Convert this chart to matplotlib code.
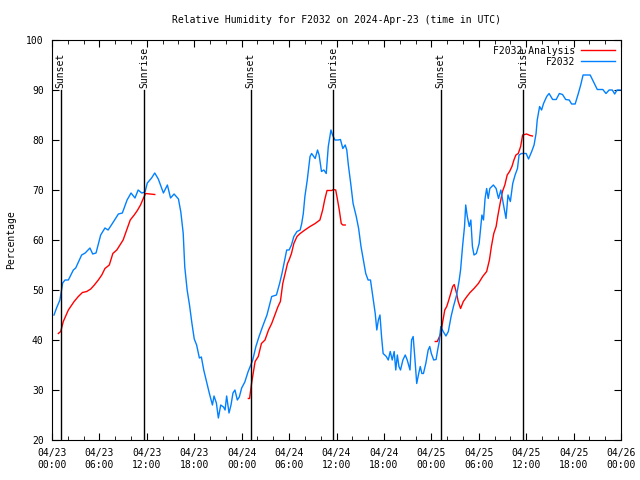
import datetime as dt
import numpy as np
import matplotlib
matplotlib.use('Agg')
import matplotlib.pyplot as plt
import matplotlib.dates as mdates

t0 = dt.datetime(2024, 4, 23, 0, 0)

# F2032 observed (hours since 04/23 00:00, percent)
obs_h = [0.25, 0.6, 1.0, 1.35, 1.65, 2.07, 2.7, 3.0, 3.75, 4.2, 4.8, 5.15, 5.57, 6.16, 6.7, 7.1,
         7.76, 8.4, 8.9, 9.5, 10.0, 10.5, 10.9, 11.35, 11.77, 12.06, 12.6, 13.0, 13.45, 14.1, 14.6,
         15.0, 15.45, 16.0, 16.3, 16.6, 16.8, 17.1, 17.4, 17.7, 18.0, 18.3, 18.65, 18.9, 19.2, 19.6,
         19.9, 20.3, 20.5, 20.8, 21.05, 21.35, 21.7, 21.9, 22.1, 22.4, 22.65, 22.9, 23.15, 23.45,
         23.7, 24.0, 24.4, 24.8, 25.05, 25.4, 25.8, 26.2, 26.65, 27.2, 27.8, 28.4, 28.8, 29.1, 29.35,
         29.7, 30.0, 30.3, 30.6, 31.0, 31.4, 31.6, 31.8, 32.0, 32.3, 32.65, 32.85, 33.3, 33.6, 33.8,
         34.1, 34.4, 34.7, 34.96, 35.3, 35.5, 35.8, 36.2, 36.5, 36.8, 37.1, 37.3, 37.5, 37.8, 38.1,
         38.5, 38.8, 39.1, 39.4, 39.7, 40.0, 40.3, 40.6, 40.9, 41.1, 41.3, 41.5, 41.7, 41.9, 42.3,
         42.55, 42.8, 43.05, 43.3, 43.5, 43.7, 43.9, 44.1, 44.4, 44.7, 44.95, 45.3, 45.5, 45.7, 45.9,
         46.15, 46.4, 46.6, 46.8, 47.0, 47.3, 47.6, 47.8, 48.0, 48.3, 48.6, 48.8, 49.0, 49.2, 49.5,
         49.85, 50.15, 50.5, 50.8, 51.2, 51.5, 51.7, 51.95, 52.2, 52.35, 52.55, 52.8, 53.0, 53.2,
         53.4, 53.7, 54.05, 54.4, 54.6, 54.8, 55.0, 55.2, 55.4, 55.85, 56.2, 56.5, 56.8, 57.1, 57.45,
         57.7, 58.0, 58.3, 58.6, 58.9, 59.1, 59.4, 60.0, 60.3, 60.7, 61.0, 61.25, 61.4, 61.7, 61.95,
         62.2, 62.6, 62.9, 63.35, 63.8, 64.2, 64.6, 65.0, 65.45, 65.75, 66.2, 66.6, 66.9, 67.2, 68.1,
         68.5, 69.0, 69.7, 70.1, 70.5, 70.9, 71.2, 71.5, 71.9]
obs_v = [45, 46.5, 48, 51.4, 52, 52, 54, 54.4, 57, 57.4, 58.4, 57.2, 57.4, 61, 62.4, 62,
         63.6, 65.2, 65.4, 68, 69.4, 68.4, 70, 69.4, 69.6, 71.4, 72.4, 73.4, 72.2, 69.4, 71,
         68.4, 69.2, 68.2, 65.6, 61.4, 54.6, 50, 47, 43.4, 40.2, 39, 36.4, 36.6, 34, 31.4,
         29.4, 27, 28.8, 27.4, 24.4, 27, 26.6, 26, 28.8, 25.4, 27, 29.4, 30, 28,
         28.6, 30.4, 31.6, 33.6, 34.6, 36, 38.7, 40.7, 42.7, 45, 48.7, 49, 51.3, 53.3, 55.3,
         58, 58, 59, 60.7, 61.7, 62, 63.3, 65.3, 68.7, 72, 76.7, 77.3, 76.3, 78, 77,
         73.7, 74, 73.3, 78.7, 82, 81, 80, 80, 80.1, 78.3, 79, 78, 75, 71.3, 67.3,
         64.7, 62.3, 58.7, 56, 53.3, 52, 52, 48.7, 45.3, 42, 44, 45, 40.7, 37.3, 36.7,
         36, 37.7, 36, 37.7, 34, 37, 34.7, 34, 36, 37, 36, 34, 40, 40.7, 36.7,
         31.3, 33.3, 34.7, 33.3, 33.3, 35.3, 38, 38.7, 37.3, 36, 36.1, 38, 39.7, 42.7, 41.7,
         40.8, 41.7, 44.7, 46.7, 49, 51.7, 54, 58.7, 62.7, 67, 64.7, 62.7, 64, 58.7,
         57, 57.3, 59.3, 65, 64, 68.3, 70.3, 68.3, 70.3, 71, 70.3, 68.3, 70, 67.3, 64.3,
         69, 67.7, 71.3, 73, 74.3, 77, 77.3, 77.3, 76.2, 77.7, 79, 81.3, 84, 86.7, 86,
         87.3, 88.7, 89.3, 88.1, 88.1, 89.3, 89.1, 88.1, 88, 87.2, 87.2, 89.3, 91, 93, 93,
         91.7, 90.1, 90.1, 89.3, 90, 90, 89.2, 90, 90]

# F2032 Analysis, three separate runs
ana1_h = [0.8, 1.1, 1.43, 2.07, 2.8, 3.33, 3.85, 4.4, 4.9, 5.36, 5.86, 6.3, 6.7, 7.25, 7.7, 8.2,
          8.6, 9.0, 9.45, 9.9, 10.4, 10.8, 11.2, 11.55, 11.85, 12.4, 13.0]
ana1_v = [41.3, 41.7, 43.7, 46, 47.7, 48.7, 49.5, 49.7, 50.2, 51, 52, 53, 54.3, 55, 57.3, 58,
          59, 60, 62, 64, 65, 65.9, 67, 68.3, 69.3, 69.2, 69.1]
ana2_h = [24.85, 25.0, 25.25, 25.7, 26.1, 26.5, 26.95, 27.4, 27.8, 28.2, 28.6, 28.9, 29.2, 29.5,
          29.8, 30.0, 30.3, 30.6, 31.0, 31.4, 32.0, 32.65, 33.3, 33.9, 34.25, 34.5, 34.8, 35.4,
          35.6, 35.9, 36.1, 36.35, 36.6, 36.8, 37.1]
ana2_v = [28.3, 28.3, 31.3, 35.7, 36.7, 39.3, 40, 42, 43.3, 45, 46.7, 47.7, 51.3, 53.3,
          55.3, 56, 57.3, 59.3, 60.7, 61.3, 62, 62.7, 63.3, 64, 66, 68, 69.9, 69.9,
          70.1, 70, 68.3, 66, 63.3, 63, 63]
ana3_h = [48.5, 48.75, 49.2, 49.4, 49.7, 49.95, 50.15, 50.45, 50.7, 50.9, 51.2, 51.4, 51.7, 52.05,
          52.5, 52.9, 53.4, 53.95, 54.5, 55.0, 55.35, 55.6, 55.9, 56.2, 56.4, 56.7, 57.0, 57.3,
          57.6, 57.9, 58.2, 58.45, 58.7, 59.0, 59.3, 59.55, 60.05, 60.5, 60.8]
ana3_v = [39.7, 39.7, 41.3, 43.3, 46, 46.7, 47.7, 49.3, 50.7, 51.1, 49.3, 47.7, 46.3, 47.7,
          48.7, 49.5, 50.3, 51.3, 52.7, 53.7, 56, 58.7, 61.3, 62.7, 64.7, 67.3, 69.7, 71,
          73, 73.7, 74.7, 76, 77, 77.3, 78.7, 81, 81.2, 80.9, 80.8]

sun_h = [1.1, 11.68, 25.13, 35.62, 49.17, 59.63]
sun_lbl = ['Sunset', 'Sunrise', 'Sunset', 'Sunrise', 'Sunset', 'Sunrise']


def to_num(hours):
    # hours since t0 -> matplotlib date numbers (NaN kept as gap)
    base = mdates.date2num(t0)
    return [base + h / 24.0 for h in hours]


plt.rcParams['font.family'] = 'DejaVu Sans Mono'
plt.rcParams['font.size'] = 7

fig = plt.figure(figsize=(6.4, 4.8), dpi=100)
ax = fig.add_axes([52/640, 40/480, (621-52)/640, 400/480])

ana_h = ana1_h + [np.nan] + ana2_h + [np.nan] + ana3_h
ana_v = ana1_v + [np.nan] + ana2_v + [np.nan] + ana3_v
ax.plot(to_num(ana_h), ana_v, color='#ff0000', lw=1.0, label='F2032 Analysis')
ax.plot(to_num(obs_h), obs_v, color='#0080ff', lw=1.0, label='F2032')

for x, lbl in zip(to_num(sun_h), sun_lbl):
    ax.plot([x, x], [20, 90], color='black', lw=1.0)
    ax.text(x, 90.3, lbl, rotation=90, ha='center', va='bottom', fontsize=7)

ax.set_xlim(t0, t0 + dt.timedelta(hours=72))
ax.set_ylim(20, 100)
ax.set_yticks(range(20, 101, 10))
ax.xaxis.set_major_locator(mdates.HourLocator(byhour=[0, 6, 12, 18]))
ax.xaxis.set_major_formatter(mdates.DateFormatter('%m/%d\n%H:%M'))
ax.xaxis.set_minor_locator(mdates.HourLocator(interval=2))
ax.tick_params(which='both', direction='in', top=True, right=True, labelsize=7)
ax.tick_params(which='major', length=5, pad=6)
ax.tick_params(which='minor', length=3)
ax.set_title('Relative Humidity for F2032 on 2024-Apr-23 (time in UTC)', fontsize=7, pad=12)
fig.text(11/640, 0.5, 'Percentage', rotation=90, ha='center', va='center', fontsize=7)

ax.legend(loc='upper right', frameon=False, markerfirst=False, fontsize=7,
          handlelength=3.5, borderaxespad=0.2, labelspacing=0.1, handletextpad=0.6)

fig.savefig('out.png', dpi=100)
